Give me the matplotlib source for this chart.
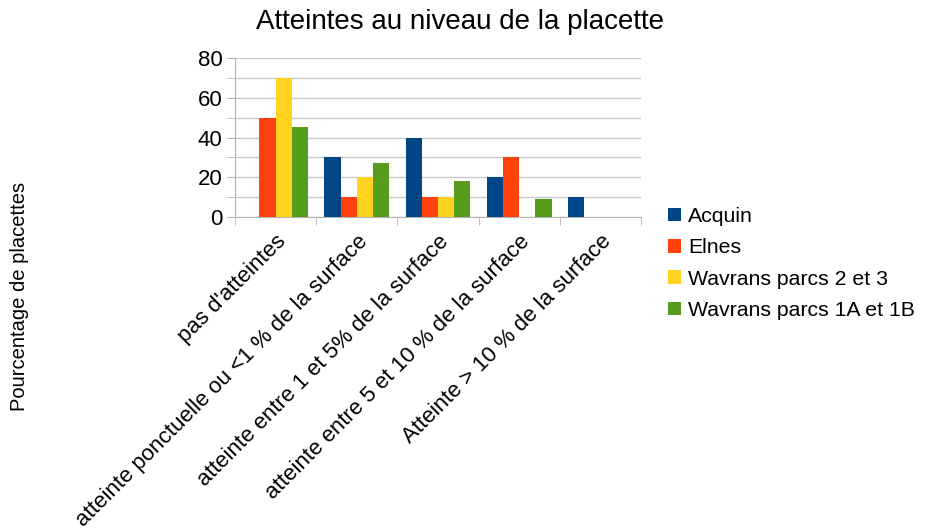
import matplotlib
matplotlib.use("Agg")
import matplotlib.pyplot as plt
import numpy as np

plt.rcParams['font.family'] = ['Liberation Sans', 'DejaVu Sans']

categories = [
    "pas d'atteintes",
    "atteinte ponctuelle ou <1 % de la surface",
    "atteinte entre 1 et 5% de la surface",
    "atteinte entre 5 et 10 % de la surface",
    "Atteinte > 10 % de la surface",
]
series_names = ["Acquin", "Elnes", "Wavrans parcs 2 et 3", "Wavrans parcs 1A et 1B"]
acquin = [0, 30, 40, 20, 10]
elnes = [50, 10, 10, 30, 0]
wavrans_23 = [70, 20, 10, 0, 0]
wavrans_1a1b = [45.45, 27.27, 18.18, 9.09, 0]
colors = ["#004586", "#ff420e", "#ffd320", "#579d1c"]

values = [acquin, elnes, wavrans_23, wavrans_1a1b]

fig = plt.figure(figsize=(9.27, 5.31), dpi=100)
ax = fig.add_axes([235/927, 1 - 217/531, (641 - 235)/927, (217 - 58)/531])

x = np.arange(len(categories))
n = len(values)
bw = 0.2
for i, (vals, name, c) in enumerate(zip(values, series_names, colors)):
    ax.bar(x + (i - (n - 1)/2) * bw, vals, width=bw, color=c, label=name, zorder=3)

ax.set_xlim(-0.5, len(categories) - 0.5)
ax.set_ylim(0, 80)
ax.set_yticks(np.arange(0, 81, 20))
ax.set_yticks(np.arange(0, 81, 10), minor=True)
ax.yaxis.grid(True, which='both', color='#c8c8c8', linewidth=1, zorder=0)
ax.tick_params(axis='y', which='both', length=6, color='#b3b3b3', labelsize=16, pad=3)

ax.set_xticks(x)
ax.set_xticklabels(categories, rotation=45, ha='right', rotation_mode='anchor', fontsize=16)
ax.set_xticks(np.arange(-0.5, len(categories), 1), minor=True)
ax.tick_params(axis='x', which='major', length=0, pad=10)
ax.tick_params(axis='x', which='minor', length=6, color='#b3b3b3')

for s in ['top', 'right']:
    ax.spines[s].set_visible(False)
for s in ['left', 'bottom']:
    ax.spines[s].set_color('#b3b3b3')

fig.text(460/927, 1 - 22/531, "Atteintes au niveau de la placette", ha='center', va='center', fontsize=20)
fig.text(20/927, 1 - 296/531, "Pourcentage de placettes", rotation=90, ha='center', va='center', fontsize=14.5)

handles, labels = ax.get_legend_handles_labels()
fig.legend(handles, labels, loc='upper left', bbox_to_anchor=(668/927, 1 - 207/531),
           frameon=False, fontsize=15.3, handlelength=0.62, handleheight=0.62,
           handletextpad=0.33, labelspacing=0.58, borderaxespad=0, borderpad=0)

fig.savefig("out.png", dpi=100)
